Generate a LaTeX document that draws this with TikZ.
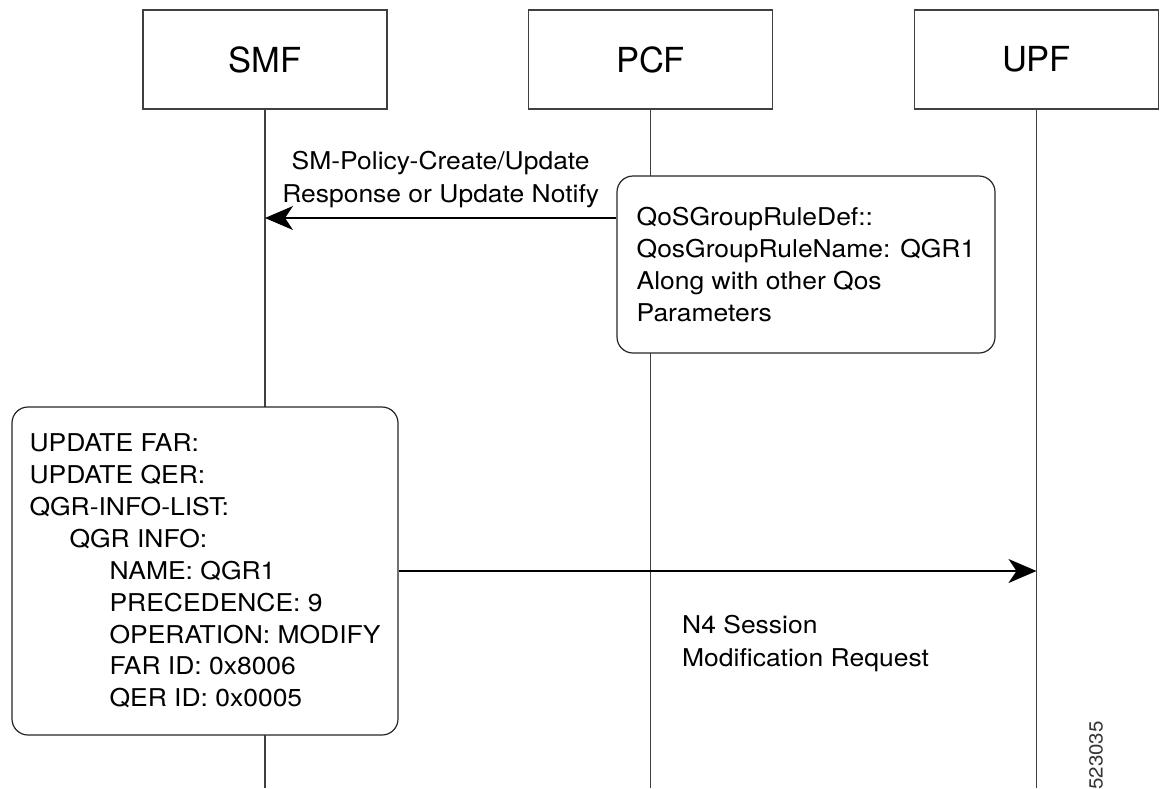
\documentclass[tikz,border=0pt]{standalone}
\usepackage{fontspec}
\setmainfont{TeX Gyre Heros}[FakeStretch=1.08]
\newfontfamily\titlefont{TeX Gyre Heros}
\usetikzlibrary{calc,arrows.meta}

\begin{document}
\begin{tikzpicture}[x=1pt,y=-1pt,
  entity/.style={draw=black!75,line width=1.2pt,minimum width=244pt,minimum height=99pt,font=\titlefont\fontsize{34.5}{40}\selectfont},
  note/.style={draw=black!85,line width=1.2pt,rounded corners=16pt,fill=white,align=left,inner sep=0pt,font=\fontsize{24.5}{31.9}\selectfont},
  lifeline/.style={draw=black!75,line width=1.2pt},
  msg/.style={line width=1.2pt,-{Stealth[length=28pt,width=24pt,inset=8pt]}},
  txt/.style={font=\fontsize{24.5}{32.5}\selectfont,align=left,inner sep=0pt}]
\useasboundingbox (0,0) rectangle (1160,788);
%entities
\node[entity] (smf) at (265,59.5) {SMF};
\node[entity] (pcf) at (650.5,59.5) {PCF};
\node[entity] (upf) at (1036.5,59.5) {UPF};
%lifelines
\foreach \n in {smf,pcf,upf}
\draw[lifeline] (\n.south) -- (\n.south |- 0,788);
%PCF note
\node[note,minimum width=378pt,minimum height=177pt] (qosnote) at (806,264.5)
  {QoSGroupRuleDef::\\QosGroupRuleName: QGR1\\Along with other Qos\\Parameters};
%SMF note
\node[note,minimum width=386pt,minimum height=328pt] (qgrnote) at (205,571)
  {UPDATE FAR:\\UPDATE QER:\\QGR-INFO-LIST:\\
   \hspace*{40pt}QGR INFO:\\
   \hspace*{80pt}NAME: QGR1\\
   \hspace*{80pt}PRECEDENCE: 9\\
   \hspace*{80pt}OPERATION: MODIFY\\
   \hspace*{80pt}FAR ID: 0x8006\\
   \hspace*{80pt}QER ID: 0x0005};
%messages
\coordinate (pcfout) at (qosnote.west |- 0,218);
\draw[msg] (pcfout) -- (pcfout -| smf.south)
  node[txt,midway,above=10pt,align=center] (policy) {SM-Policy-Create/Update\\Response or Update Notify};
\draw[msg] (qgrnote.east) -- (qgrnote.east -| upf.south);
\node[txt,anchor=north west] (n4) at (682,615) {N4 Session\\Modification Request};
%figure id
\node[rotate=90,anchor=east,inner sep=0pt,text=black!80,font=\fontsize{19}{23}\selectfont] (figid) at (1096,721) {523035};
\end{tikzpicture}
\end{document}
